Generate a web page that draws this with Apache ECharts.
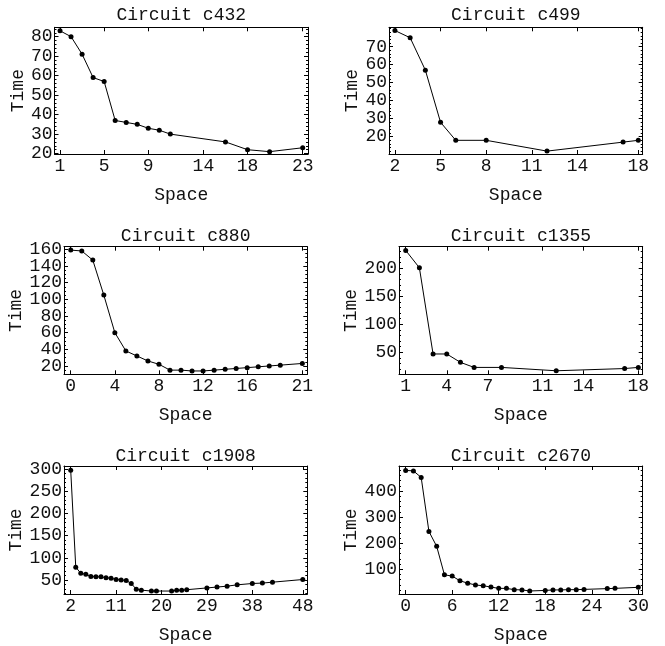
<!DOCTYPE html>
<html>
<head>
<meta charset="utf-8">
<script src="https://cdn.jsdelivr.net/npm/echarts@6/dist/echarts.min.js"></script>
<style>
html,body{margin:0;padding:0;background:#fff;}
#chart{width:665px;height:646px;}
</style>
</head>
<body>
<div id="chart"></div>
<script>
// ---- Data ----
const titles = ['Circuit c432','Circuit c499','Circuit c880','Circuit c1355','Circuit c1908','Circuit c2670'];

const c432_space = [1,2,3,4,5,6,7,8,9,10,11,16,18,20,23];
const c432_time  = [83,80,71,59,57,37,36,35,33,32,30,26,22,21,23];

const c499_space = [2,3,4,5,6,8,12,17,18];
const c499_time  = [79,75,57,28,18,18,12,17,18];

const c880_space = [0,1,2,3,4,5,6,7,8,9,10,11,12,13,14,15,16,17,18,19,21];
const c880_time  = [159,158,147,105,60,38,32,26,22,15,15,14,14,15,16,17,18,19,20,21,23];

const c1355_space = [1,2,3,4,5,6,8,12,17,18];
const c1355_time  = [232,201,47,47,32,23,23,17,21,23];

const c1908_space = [2,3,4,5,6,7,8,9,10,11,12,13,14,15,16,18,19,22,23,24,25,29,31,33,35,38,40,42,48];
const c1908_time  = [298,79,65,63,58,57,57,55,54,51,50,49,42,29,27,25,25,25,27,27,28,32,34,36,39,42,43,45,51];

const c2670_space = [0,1,2,3,4,5,6,7,8,9,10,11,12,13,14,15,16,18,19,20,21,22,23,26,27,30];
const c2670_time  = [479,477,452,245,188,79,74,56,47,40,37,32,27,27,22,21,17,19,21,21,22,22,23,26,27,31];

// tick labels
const c432_xticks = [1,5,9,14,18,23];
const c499_xticks = [2,5,8,11,14,18];
const c880_xticks = [0,4,8,12,16,21];
const c1355_xticks = [1,4,7,11,14,18];
const c1908_xticks = [2,11,20,29,38,48];
const c2670_xticks = [0,6,12,18,24,30];

const c432_yticks = [20,30,40,50,60,70,80];
const c499_yticks = [20,30,40,50,60,70];
const c880_yticks = [20,40,60,80,100,120,140,160];
const c1355_yticks = [50,100,150,200];
const c1908_yticks = [50,100,150,200,250,300];
const c2670_yticks = [100,200,300,400];

// ---- Layout (pixels) and ranges ----
const FONT = 'Liberation Mono';
const FS = 18;
const panels = [
  {sx:c432_space, ty:c432_time, xt:c432_xticks, yt:c432_yticks, minor:2,
   box:[54.5,27.3,308,154], xr:[0.5,23.48], yr:[19.8,84.8], tgap:26.5},
  {sx:c499_space, ty:c499_time, xt:c499_xticks, yt:c499_yticks, minor:2,
   box:[389,27.3,642.7,154], xr:[1.61,18.29], yr:[10.4,80.8], tgap:26},
  {sx:c880_space, ty:c880_time, xt:c880_xticks, yt:c880_yticks, minor:5,
   box:[64,246.7,307.3,374.3], xr:[-0.61,21.45], yr:[10.0,163.1], tgap:36},
  {sx:c1355_space, ty:c1355_time, xt:c1355_xticks, yt:c1355_yticks, minor:10,
   box:[399,246.7,642.7,374.3], xr:[0.51,18.32], yr:[10.7,238.6], tgap:36},
  {sx:c1908_space, ty:c1908_time, xt:c1908_xticks, yt:c1908_yticks, minor:10,
   box:[64,466,307.3,594], xr:[0.67,48.9], yr:[18.3,307.5], tgap:36},
  {sx:c2670_space, ty:c2670_time, xt:c2670_xticks, yt:c2670_yticks, minor:20,
   box:[399,466,642.7,594], xr:[-0.86,30.57], yr:[5.4,495.8], tgap:36}
];

function minorTicks(lo, hi, step){
  const out=[];
  for(let v=Math.ceil(lo/step)*step; v<=hi; v+=step) out.push(+v.toFixed(6));
  return out;
}

const grid=[], xAxis=[], yAxis=[], series=[], graphic=[];
const lineCol = '#000';
const txtCol = '#111';
const labelStyle = {color:txtCol, fontFamily:FONT, fontSize:FS, hideOverlap:false, showMinLabel:true, showMaxLabel:true};

panels.forEach((p,i)=>{
  const [l,t,r,b] = p.box;
  grid.push({left:l, top:t, width:r-l, height:b-t, containLabel:false});
  const baseAxis = {
    gridIndex:i, type:'value', splitLine:{show:false},
    axisLine:{show:true, onZero:false, lineStyle:{color:lineCol, width:1}},
  };
  // bottom x (labels)
  xAxis.push(Object.assign({}, baseAxis, {
    position:'bottom', min:p.xr[0], max:p.xr[1],
    axisTick:{show:true, inside:true, length:4, customValues:p.xt, lineStyle:{color:lineCol}},
    axisLabel:Object.assign({show:true, customValues:p.xt, margin:3}, labelStyle),
    name:'Space', nameLocation:'middle', nameGap:32,
    nameTextStyle:{color:txtCol, fontFamily:FONT, fontSize:FS}
  }));
  // top x (ticks only)
  xAxis.push(Object.assign({}, baseAxis, {
    position:'top', min:p.xr[0], max:p.xr[1],
    axisTick:{show:true, inside:true, length:4, customValues:p.xt, lineStyle:{color:lineCol}},
    axisLabel:{show:false}
  }));
  const mt = minorTicks(p.yr[0], p.yr[1], p.minor);
  const evenLabels = p.yt.filter((v,k)=>k%2===0);
  const oddLabels = p.yt.filter((v,k)=>k%2===1);
  // left y (line, major ticks, even labels, name)
  yAxis.push(Object.assign({}, baseAxis, {
    position:'left', min:p.yr[0], max:p.yr[1],
    axisTick:{show:true, inside:true, length:4, customValues:p.yt, lineStyle:{color:lineCol}},
    axisLabel:Object.assign({show:true, customValues:evenLabels, margin:2}, labelStyle),
    name:'Time', nameLocation:'middle', nameGap:p.tgap, nameRotate:90,
    nameTextStyle:{color:txtCol, fontFamily:FONT, fontSize:FS}
  }));
  // left y odd labels
  yAxis.push(Object.assign({}, baseAxis, {
    position:'left', min:p.yr[0], max:p.yr[1],
    axisLine:{show:false, onZero:false},
    axisTick:{show:false},
    axisLabel:Object.assign({show:oddLabels.length>0, customValues:oddLabels, margin:2}, labelStyle)
  }));
  // left minor
  yAxis.push(Object.assign({}, baseAxis, {
    position:'left', min:p.yr[0], max:p.yr[1],
    axisLine:{show:false, onZero:false},
    axisTick:{show:true, inside:true, length:2, customValues:mt, lineStyle:{color:lineCol}},
    axisLabel:{show:false}
  }));
  // right y
  yAxis.push(Object.assign({}, baseAxis, {
    position:'right', min:p.yr[0], max:p.yr[1],
    axisTick:{show:true, inside:true, length:4, customValues:p.yt, lineStyle:{color:lineCol}},
    axisLabel:{show:false}
  }));
  // right minor
  yAxis.push(Object.assign({}, baseAxis, {
    position:'right', min:p.yr[0], max:p.yr[1],
    axisLine:{show:false, onZero:false},
    axisTick:{show:true, inside:true, length:2, customValues:mt, lineStyle:{color:lineCol}},
    axisLabel:{show:false}
  }));
  series.push({
    type:'line', xAxisIndex:2*i, yAxisIndex:5*i,
    data:p.sx.map((x,k)=>[x,p.ty[k]]),
    symbol:'circle', symbolSize:5, showSymbol:true,
    itemStyle:{color:'#000'}, lineStyle:{color:'#000', width:1},
    animation:false, silent:true
  });
  const rowTitleY = [15, 236.7, 456.7][Math.floor(i/2)];
  graphic.push({
    type:'text', x:(l+r)/2, y:rowTitleY,
    style:{text:titles[i], font:FS+'px "'+FONT+'"', fill:txtCol,
           align:'center', verticalAlign:'middle', textAlign:'center', textVerticalAlign:'middle'}
  });
});

const chart = echarts.init(document.getElementById('chart'), null, {renderer:'canvas'});
chart.setOption({
  backgroundColor:'#fff',
  animation:false,
  grid, xAxis, yAxis, series, graphic
});
</script>
</body>
</html>
